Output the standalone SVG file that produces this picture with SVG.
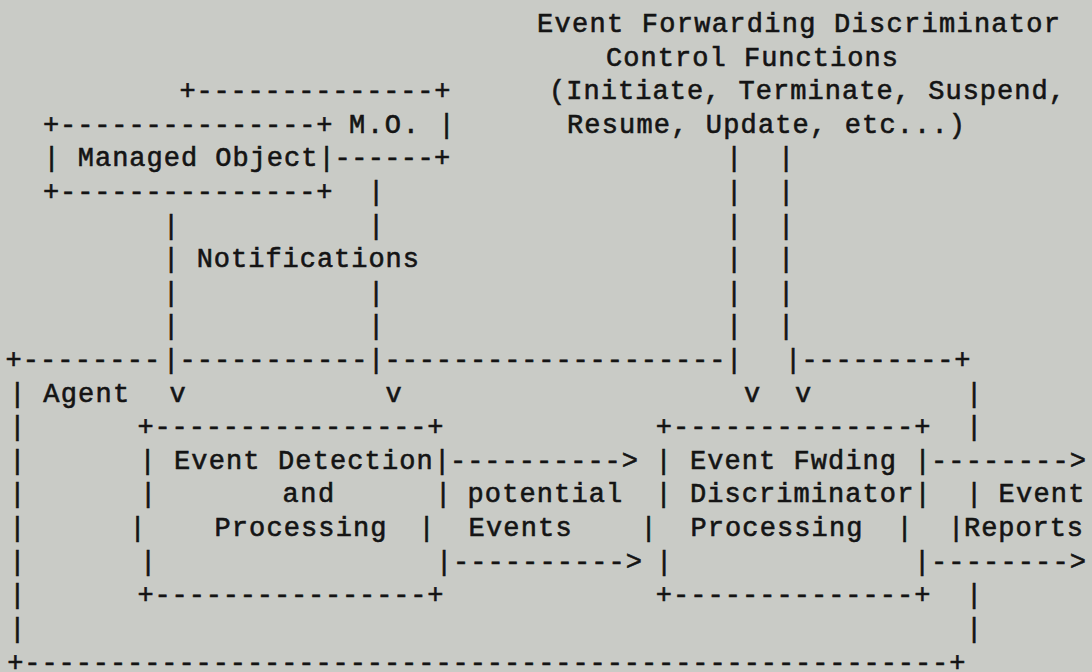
<svg xmlns="http://www.w3.org/2000/svg" width="1092" height="672" viewBox="0 0 1092 672">
<style>
.t{font-family:"Liberation Mono","DejaVu Sans Mono",monospace;font-size:27px;fill:#141414;stroke:#141414;stroke-width:0.6px;white-space:pre}
.c{text-anchor:middle}
</style>
<rect width="1092" height="672" fill="#c9cbc6"/>

<g id="efd-control-functions">
<text class="t" x="537" y="32" textLength="523" lengthAdjust="spacing">Event Forwarding Discriminator</text>
<text class="t" x="606" y="65.6" textLength="292" lengthAdjust="spacing">Control Functions</text>
<text class="t" x="549" y="99.2" textLength="516" lengthAdjust="spacing">(Initiate, Terminate, Suspend,</text>
<text class="t" x="567" y="132.8" textLength="398" lengthAdjust="spacing">Resume, Update, etc...)</text>
</g>

<g id="mo-back">
<text class="t" x="179.5" y="99.2" textLength="270.9" lengthAdjust="spacing">+--------------+</text>
<text class="t" x="349" y="132.8" textLength="105.6" lengthAdjust="spacing">M.O. |</text>
<text class="t" x="334.6" y="166.4" textLength="115.6" lengthAdjust="spacing">------+</text>
</g>

<g id="managed-object">
<text class="t" x="43" y="132.8" textLength="289.5" lengthAdjust="spacing">+---------------+</text>
<text class="t" x="43.4" y="166.4" textLength="291.2" lengthAdjust="spacing">| Managed Object|</text>
<text class="t" x="43" y="200" textLength="289.5" lengthAdjust="spacing">+---------------+</text>
</g>

<g id="agent">
<text class="t" x="5.4" y="368" textLength="154.8" lengthAdjust="spacing">+--------</text>
<text class="t" x="179.6" y="368" textLength="187.8" lengthAdjust="spacing">-----------</text>
<text class="t" x="384.6" y="368" textLength="340.8" lengthAdjust="spacing">--------------------</text>
<text class="t" x="801.5" y="368" textLength="169" lengthAdjust="spacing">---------+</text>
<text class="t c" x="17.4" y="401.6">|</text>
<text class="t" x="43.2" y="401.6" textLength="86" lengthAdjust="spacing">Agent</text>
<text class="t c" x="17.4" y="435.2">|</text>
<text class="t c" x="17.4" y="468.8">|</text>
<text class="t c" x="17.4" y="502.4">|</text>
<text class="t c" x="17.4" y="536">|</text>
<text class="t c" x="17.4" y="569.6">|</text>
<text class="t c" x="17.4" y="603.2">|</text>
<text class="t c" x="17.4" y="636.8">|</text>
<text class="t c" x="974" y="401.6">|</text>
<text class="t c" x="974" y="435.2">|</text>
<text class="t c" x="974" y="502.4">|</text>
<text class="t c" x="956" y="536">|</text>
<text class="t c" x="974" y="603.2">|</text>
<text class="t c" x="974" y="636.8">|</text>
<text class="t" x="7.15" y="671" textLength="958.3" lengthAdjust="spacing">+------------------------------------------------------+</text>
</g>

<g id="event-detection-processing">
<text class="t" x="137.5" y="435.2" textLength="306" lengthAdjust="spacing">+----------------+</text>
<text class="t" x="139.4" y="468.8" textLength="310.7" lengthAdjust="spacing">| Event Detection|</text>
<text class="t c" x="148" y="502.4">|</text>
<text class="t" x="282.5" y="502.4" textLength="51.6" lengthAdjust="spacing">and</text>
<text class="t c" x="443" y="502.4">|</text>
<text class="t c" x="137.5" y="536">|</text>
<text class="t" x="214.5" y="536" textLength="172" lengthAdjust="spacing">Processing</text>
<text class="t c" x="426.5" y="536">|</text>
<text class="t c" x="148" y="569.6">|</text>
<text class="t c" x="444" y="569.6">|</text>
<text class="t" x="137.5" y="603.2" textLength="306" lengthAdjust="spacing">+----------------+</text>
</g>

<g id="efd-processing">
<text class="t" x="655.8" y="435.2" textLength="274.7" lengthAdjust="spacing">+--------------+</text>
<text class="t" x="655.4" y="468.8" textLength="275.2" lengthAdjust="spacing">| Event Fwding |</text>
<text class="t" x="655.4" y="502.4" textLength="275.2" lengthAdjust="spacing">| Discriminator|</text>
<text class="t c" x="648.7" y="536">|</text>
<text class="t" x="690.4" y="536" textLength="172" lengthAdjust="spacing">Processing</text>
<text class="t c" x="904.6" y="536">|</text>
<text class="t c" x="664" y="569.6">|</text>
<text class="t c" x="922" y="569.6">|</text>
<text class="t" x="655.8" y="603.2" textLength="274.7" lengthAdjust="spacing">+--------------+</text>
</g>

<g id="connectors">
<text class="t c" x="171" y="233.6">|</text>
<text class="t c" x="171" y="267.2">|</text>
<text class="t" x="196.7" y="267.2" textLength="222.3" lengthAdjust="spacing">Notifications</text>
<text class="t c" x="171" y="300.8">|</text>
<text class="t c" x="171" y="334.4">|</text>
<text class="t c" x="171" y="368">|</text>
<text class="t c" x="177.6" y="401.6">v</text>
<text class="t c" x="376" y="200">|</text>
<text class="t c" x="376" y="233.6">|</text>
<text class="t c" x="376" y="300.8">|</text>
<text class="t c" x="376" y="334.4">|</text>
<text class="t c" x="376" y="368">|</text>
<text class="t c" x="393.5" y="401.6">v</text>
<text class="t c" x="734" y="166.4">|</text>
<text class="t c" x="734" y="200">|</text>
<text class="t c" x="734" y="233.6">|</text>
<text class="t c" x="734" y="267.2">|</text>
<text class="t c" x="734" y="300.8">|</text>
<text class="t c" x="734" y="334.4">|</text>
<text class="t c" x="734" y="368">|</text>
<text class="t c" x="752" y="401.6">v</text>
<text class="t c" x="786" y="166.4">|</text>
<text class="t c" x="786" y="200">|</text>
<text class="t c" x="786" y="233.6">|</text>
<text class="t c" x="786" y="267.2">|</text>
<text class="t c" x="786" y="300.8">|</text>
<text class="t c" x="786" y="334.4">|</text>
<text class="t c" x="793" y="368">|</text>
<text class="t c" x="803" y="401.6">v</text>
<text class="t" x="450" y="468.8" textLength="188" lengthAdjust="spacing">----------&gt;</text>
<text class="t" x="467.5" y="502.4" textLength="154.8" lengthAdjust="spacing">potential</text>
<text class="t" x="468.5" y="536" textLength="103.2" lengthAdjust="spacing">Events</text>
<text class="t" x="453" y="569.6" textLength="189" lengthAdjust="spacing">----------&gt;</text>
<text class="t" x="931" y="468.8" textLength="155" lengthAdjust="spacing">--------&gt;</text>
<text class="t" x="998.5" y="502.4" textLength="86" lengthAdjust="spacing">Event</text>
<text class="t" x="964" y="536" textLength="119" lengthAdjust="spacing">Reports</text>
<text class="t" x="931" y="569.6" textLength="155" lengthAdjust="spacing">--------&gt;</text>
</g>
</svg>
